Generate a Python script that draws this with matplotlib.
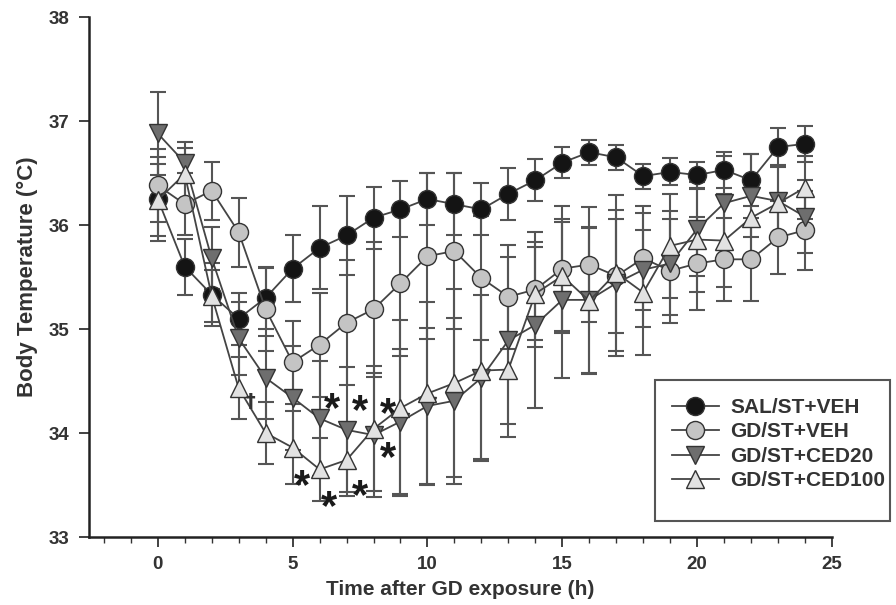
import matplotlib
matplotlib.use("Agg")
import matplotlib.pyplot as plt
from matplotlib.patches import Rectangle
import numpy as np

# -----------------------------
# DATI
# -----------------------------
ore = list(range(0, 25))

sal_veh = [36.25, 35.60, 35.33, 35.10, 35.30, 35.58, 35.78, 35.90, 36.07, 36.15,
           36.25, 36.20, 36.15, 36.30, 36.43, 36.60, 36.70, 36.65, 36.47, 36.51,
           36.48, 36.53, 36.43, 36.75, 36.78]
sal_veh_sem = [0.40, 0.27, 0.30, 0.25, 0.30, 0.32, 0.40, 0.38, 0.30, 0.27,
               0.25, 0.30, 0.25, 0.25, 0.20, 0.15, 0.12, 0.12, 0.12, 0.13,
               0.13, 0.17, 0.25, 0.18, 0.17]

gd_veh = [36.38, 36.20, 36.33, 35.93, 35.19, 34.68, 34.85, 35.06, 35.19, 35.44,
          35.70, 35.75, 35.49, 35.31, 35.38, 35.58, 35.62, 35.51, 35.68, 35.56,
          35.63, 35.67, 35.67, 35.88, 35.95]
gd_veh_sem = [0.35, 0.30, 0.28, 0.33, 0.40, 0.40, 0.50, 0.60, 0.65, 0.70,
              0.80, 0.75, 0.60, 0.50, 0.55, 0.60, 0.55, 0.55, 0.50, 0.50,
              0.45, 0.40, 0.40, 0.35, 0.38]

gd_ced20 = [36.88, 36.60, 35.68, 34.91, 34.53, 34.34, 34.14, 34.03, 33.98, 34.11,
            34.26, 34.31, 34.53, 34.89, 35.04, 35.28, 35.28, 35.44, 35.57, 35.63,
            35.96, 36.21, 36.28, 36.23, 36.08]
gd_ced20_sem = [0.40, 0.20, 0.30, 0.35, 0.40, 0.50, 0.55, 0.60, 0.60, 0.70,
                0.75, 0.80, 0.80, 0.80, 0.80, 0.75, 0.70, 0.70, 0.55, 0.50,
                0.45, 0.45, 0.40, 0.35, 0.35]

gd_ced100 = [36.24, 36.49, 35.32, 34.43, 34.00, 33.86, 33.65, 33.74, 34.04, 34.24,
             34.38, 34.48, 34.60, 34.61, 35.34, 35.51, 35.27, 35.54, 35.35, 35.80,
             35.86, 35.85, 36.07, 36.21, 36.36]
gd_ced100_sem = [0.35, 0.25, 0.25, 0.30, 0.30, 0.35, 0.30, 0.35, 0.60, 0.85,
                 0.88, 0.90, 0.85, 0.65, 0.45, 0.55, 0.70, 0.75, 0.60, 0.50,
                 0.50, 0.45, 0.40, 0.35, 0.30]

# asterischi di significativita' e croce
star_x = [5.35, 6.45, 6.35, 7.5, 7.5, 8.55, 8.55]
star_y = [33.48, 34.22, 33.28, 34.20, 33.38, 34.17, 33.75]
dagger_x = [3.45]
dagger_y = [34.30]

# -----------------------------
# STILE
# -----------------------------
plt.rcParams["font.family"] = ["Liberation Sans", "DejaVu Sans"]
plt.rcParams["font.weight"] = "bold"
TEXT = "#333333"
LINEA = "#444444"
ERR = "#555555"

serie = [
    ("SAL/ST+VEH", sal_veh, sal_veh_sem, "o", "#141414"),
    ("GD/ST+VEH", gd_veh, gd_veh_sem, "o", "#c4c4c4"),
    ("GD/ST+CED20", gd_ced20, gd_ced20_sem, "v", "#6e6e6e"),
    ("GD/ST+CED100", gd_ced100, gd_ced100_sem, "^", "#e2e2e2"),
]

# -----------------------------
# GRAFICO
# -----------------------------
fig = plt.figure(figsize=(8.96, 6.05), dpi=100)
ax = fig.add_axes([89 / 896, 68 / 605, (832 - 89) / 896, (537 - 17) / 605])

for nome, valori, sem, marker, colore in serie:
    ax.errorbar(ore, valori, yerr=sem, fmt="none", ecolor=ERR, elinewidth=1.5,
                capsize=6, capthick=1.5, zorder=2)

handles = []
for i, (nome, valori, sem, marker, colore) in enumerate(serie):
    h, = ax.plot(ore, valori, color=LINEA, lw=1.3, marker=marker, markersize=13,
                 markerfacecolor=colore, markeredgecolor="#333333",
                 markeredgewidth=1.0, label=nome, zorder=3 + i)
    handles.append(h)

for x, y in zip(star_x, star_y):
    ax.text(x, y, "*", fontsize=30, fontweight="bold", color="#1a1a1a",
            ha="center", va="center", zorder=10)
for x, y in zip(dagger_x, dagger_y):
    ax.text(x, y, "†", fontsize=14, color="#333333", ha="center", va="center",
            family="DejaVu Sans", zorder=10)

ax.set_xlim(-2.55, 25)
ax.set_ylim(33, 38)
ax.set_xticks([0, 5, 10, 15, 20, 25])
ax.set_xticks(np.arange(-2, 26, 1), minor=True)
ax.set_yticks([33, 34, 35, 36, 37, 38])

for s in ["top", "right"]:
    ax.spines[s].set_visible(False)
for s in ["left", "bottom"]:
    ax.spines[s].set_linewidth(1.8)
    ax.spines[s].set_color("#222222")

ax.tick_params(axis="both", which="major", direction="out", length=7, width=1.3,
               color="#333333", labelsize=13.5, labelcolor=TEXT, pad=7)
ax.tick_params(axis="x", which="minor", direction="out", length=4, width=1.0,
               color="#333333")

ax.set_xlabel("Time after GD exposure (h)", fontsize=15, fontweight="bold",
              color=TEXT, labelpad=5)
ax.set_ylabel("Body Temperature (°C)", fontsize=16, fontweight="bold",
              color=TEXT, labelpad=8)

# legenda: cornice disegnata a parte (piu' spazio sotto, come nell'originale)
leg = fig.legend(handles=handles, loc="upper left",
                 bbox_to_anchor=(672 / 896, 1 - 398 / 605), fontsize=15,
                 frameon=False, handlelength=2.25, labelspacing=0.26,
                 borderpad=0, handletextpad=0.55, borderaxespad=0)
for t in leg.get_texts():
    t.set_color(TEXT)
fig.patches.append(Rectangle((655 / 896, 1 - 521 / 605), 235 / 896, 141 / 605,
                             transform=fig.transFigure, fill=False,
                             edgecolor="#555555", linewidth=1.5))

fig.savefig("out.png", dpi=100)
